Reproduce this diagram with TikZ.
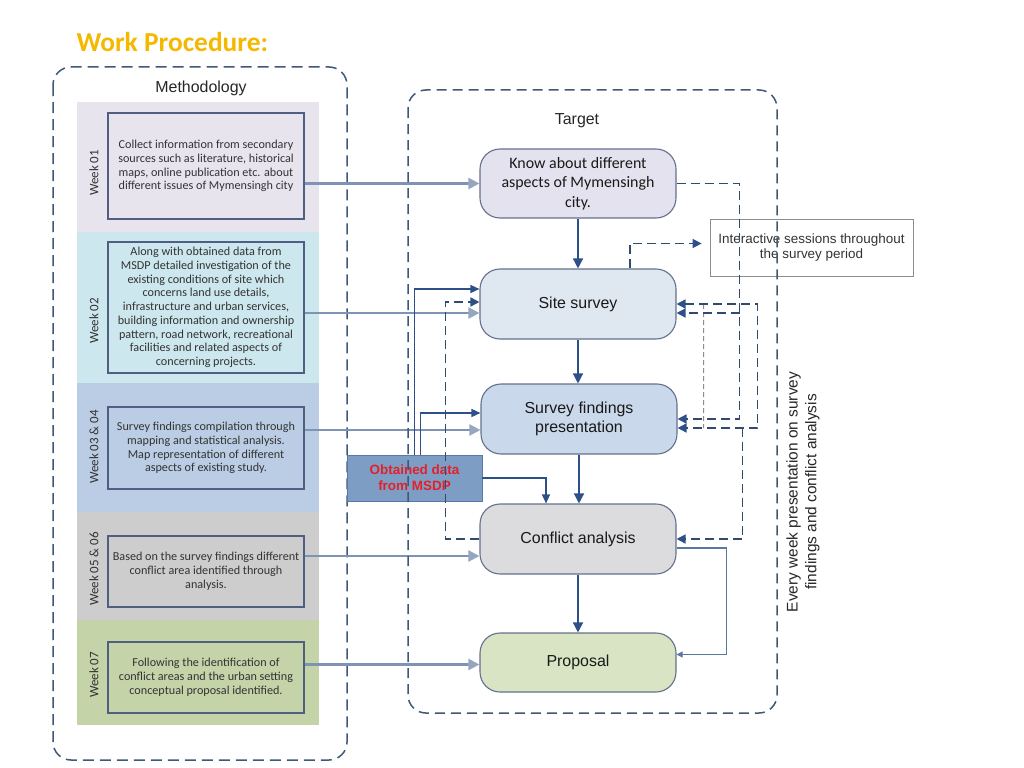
\documentclass[tikz,border=0pt]{standalone}
\usepackage{fontspec}
\setmainfont{Carlito}
\setsansfont{Liberation Sans}
\usetikzlibrary{arrows.meta,positioning}

\definecolor{titlegold}{RGB}{245,184,0}
\definecolor{frameblue}{RGB}{62,88,120}
\definecolor{dashblue}{RGB}{50,74,108}
\definecolor{boxline}{RGB}{80,94,130}
\definecolor{nodeline}{RGB}{100,112,140}
\definecolor{flowblue}{RGB}{44,80,135}
\definecolor{inputblue}{RGB}{125,148,180}
\definecolor{inputtip}{RGB}{150,166,192}
\definecolor{weekone}{RGB}{232,228,238}
\definecolor{weektwo}{RGB}{205,231,238}
\definecolor{weekthree}{RGB}{187,205,228}
\definecolor{weekfive}{RGB}{205,205,205}
\definecolor{weekseven}{RGB}{196,211,168}
\definecolor{knowfill}{RGB}{228,226,238}
\definecolor{sitefill}{RGB}{223,231,240}
\definecolor{findfill}{RGB}{201,216,234}
\definecolor{conffill}{RGB}{220,220,222}
\definecolor{propfill}{RGB}{216,228,196}
\definecolor{msdpfill}{RGB}{125,157,196}
\definecolor{msdpline}{RGB}{90,120,165}
\definecolor{msdpred}{RGB}{228,32,40}
\definecolor{sideblue}{RGB}{90,120,160}

\begin{document}
\begin{tikzpicture}[x=1bp,y=-1bp,
  frame/.style={draw=frameblue,line width=1.5bp,dash pattern=on 11bp off 6bp,rounded corners=18bp},
  week box/.style={draw=boxline,line width=1.2bp,minimum width=196bp,align=center,text=black!80,
    font=\fontsize{12.2}{13.8}\selectfont},
  week label/.style={rotate=90,text=black!80,font=\fontsize{13}{15}\selectfont},
  main node/.style={draw=nodeline,line width=1.1bp,rounded corners=20bp,minimum width=196bp,
    minimum height=70bp,align=center,text=black!90,font=\sffamily\fontsize{16}{19.5}\selectfont},
  flow/.style={draw=flowblue,line width=1.5bp,-{Triangle[width=10bp,length=10bp]}},
  input/.style={draw=inputblue,line width=2.2bp,-{Triangle[width=11bp,length=11bp,color=inputtip]}},
  link/.style={draw=flowblue,line width=1.3bp,-{Triangle[width=8bp,length=9bp]}},
  side link/.style={draw=sideblue,line width=1.1bp,-{Triangle[width=6bp,length=6bp]}},
  back/.style={draw=dashblue,line width=1.6bp,dash pattern=on 9bp off 5bp,
    -{Triangle[width=9bp,length=9bp,color=flowblue]}},
  back both/.style={back,{Triangle[width=9bp,length=9bp,color=flowblue]}-{Triangle[width=9bp,length=9bp,color=flowblue]}},
  thin dash/.style={draw=black!45,line width=0.9bp,dash pattern=on 5bp off 3bp}]

\useasboundingbox (0,0) rectangle (1024,768);

\node[anchor=base west,text=titlegold,font=\bfseries\fontsize{27.5}{30}\selectfont] (title) at (73,52) {Work Procedure:};

% methodology column
\fill[weekone] (77,102) rectangle (319,232);
\fill[weektwo] (77,232) rectangle (319,383);
\fill[weekthree] (77,383) rectangle (319,512);
\fill[weekfive] (77,512) rectangle (319,620);
\fill[weekseven] (77,620) rectangle (319,725);
\draw[frame] (53,67) rectangle (347,760);
\node[font=\sffamily\fontsize{16}{18}\selectfont,text=black!85] (method) at (201,88) {Methodology};

\node[week box,minimum height=106bp] (m1) at (206,166) {Collect information from secondary\\sources such as literature, historical\\maps, online publication etc. about\\different issues of Mymensingh city};
\node[week box,minimum height=131bp] (m2) at (206,307.5) {Along with obtained data from\\MSDP detailed investigation of the\\existing conditions of site which\\concerns land use details,\\infrastructure and urban services,\\building information and ownership\\pattern, road network, recreational\\facilities and related aspects of\\concerning projects.};
\node[week box,minimum height=82bp] (m3) at (206,448) {Survey findings compilation through\\mapping and statistical analysis.\\Map representation of different\\aspects of existing study.};
\node[week box,minimum height=71bp] (m4) at (206,571.5) {Based on the survey findings different\\conflict area identified through\\analysis.};
\node[week box,minimum height=71bp] (m5) at (206,677.5) {Following the identification of\\conflict areas and the urban setting\\conceptual proposal identified.};

\node[week label] (w1) at (94,173) {Week 01};
\node[week label] (w2) at (94,321) {Week 02};
\node[week label] (w3) at (94,447) {Week 03 \& 04};
\node[week label] (w4) at (94,569) {Week 05 \& 06};
\node[week label] (w5) at (94,675) {Week 07};

% target column
\node[font=\sffamily\fontsize{16}{18}\selectfont,text=black!85] (target) at (577,121) {Target};
\node[main node,fill=knowfill,minimum height=69bp,font=\fontsize{16}{19.5}\selectfont] (know) at (578,183.5) {Know about different\\aspects of Mymensingh\\city.};
\node[main node,fill=sitefill] (site) at (578,304) {Site survey};
\node[main node,fill=findfill] (findings) at (579,419) {Survey findings\\presentation};
\node[main node,fill=conffill] (conflict) at (578,539) {Conflict analysis};
\node[main node,fill=propfill,minimum height=59bp] (proposal) at (578,662.5) {Proposal};

\node[draw=black!45,line width=0.8bp,minimum width=203bp,minimum height=57bp,align=center,
  text=black!80,font=\sffamily\fontsize{13.5}{16}\selectfont] (inter) at (811.5,247.5) {Interactive sessions throughout\\the survey period};
\node[draw=msdpline,fill=msdpfill,minimum width=135bp,minimum height=46bp,align=center,
  text=msdpred,font=\sffamily\bfseries\fontsize{13.5}{16}\selectfont] (msdp) at (414.5,478) {Obtained data\\from MSDP};
\node[rotate=90,align=center,text=black!85,font=\sffamily\fontsize{15.5}{19}\selectfont] (weekly) at (803,492) {Every week presentation on survey\\findings and conflict analysis};

% inputs from the weeks
\coordinate (in2) at ([yshift=-9bp]site.west);
\coordinate (in3) at ([yshift=-11bp]findings.west);
\coordinate (in4) at ([yshift=-17bp]conflict.west);
\coordinate (in5) at ([yshift=-2bp]proposal.west);
\draw[input] (know.west -| m1.east) -- (know.west);
\draw[input] (in2 -| m2.east) -- (in2);
\draw[input] (in3 -| m3.east) -- (in3);
\draw[input] (in4 -| m4.east) -- (in4);
\draw[input] (in5 -| m5.east) -- (in5);

% main flow
\draw[flow] (know) -- (site);
\draw[flow] (site.south) -- (site.south |- findings.north);
\draw[flow] (findings.south) -- (findings.south |- conflict.north);
\draw[flow] (conflict) -- (proposal);

% data from MSDP
\draw[link] (msdp.north) |- ([yshift=15bp]site.west);
\draw[link] ([xshift=6bp]msdp.north) |- ([yshift=6bp]findings.west);
\draw[link] (msdp.east) -| ([xshift=-32bp]conflict.north);

% feedback loops
\draw[back] (conflict.west) -- ++(-34,0) |- ([yshift=2bp]site.west);
\draw[back,shorten >=8bp] ([xshift=52bp]site.north) |- ([yshift=4bp]inter.west);
\draw[thin dash] ([xshift=27bp]site.east) -- ([xshift=26bp,yshift=-9bp]findings.east);
\draw[back] (know.east) -- ++(63,0) |- (findings.east);
\draw[back] ([xshift=63bp,yshift=-9bp]site.east) -- ([yshift=-9bp]site.east);
\draw[back both] (site.east) -- ++(81,0) |- ([yshift=-9bp]findings.east);
\draw[back] ([xshift=65bp,yshift=-9bp]findings.east) |- (conflict.east);
\draw[side link] ([yshift=-9bp]conflict.east) -- ++(50,0) |- ([yshift=8bp]proposal.east);

\draw[frame,dash pattern=on 10bp off 6bp] (408,90) rectangle (777,713);
\end{tikzpicture}
\end{document}
